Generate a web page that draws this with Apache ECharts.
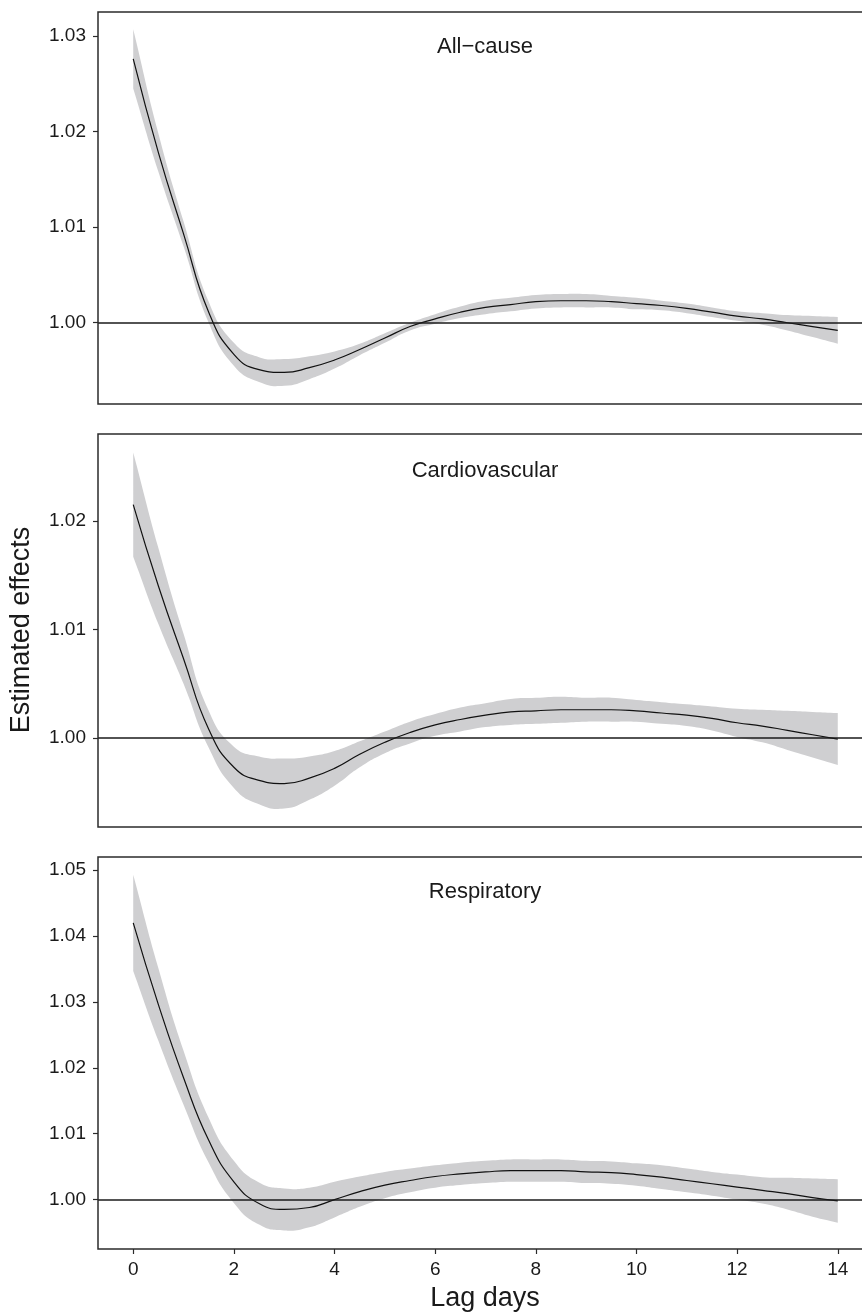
<!DOCTYPE html>
<html>
<head>
<meta charset="utf-8">
<script src="https://cdn.jsdelivr.net/npm/echarts@6/dist/echarts.min.js"></script>
<style>
  html, body { margin: 0; padding: 0; background: #fff; }
  #main { width: 862px; height: 1313px; }
</style>
</head>
<body>
<div id="main"></div>
<script>
// lag days (x values)
var lags = [0, 0.5, 1, 1.5, 2, 2.5, 3, 3.5, 4, 4.5, 5, 5.5, 6, 6.5, 7,
            7.5, 8, 8.5, 9, 9.5, 10, 10.5, 11, 11.5, 12, 12.5, 13, 13.5, 14];
var xTicks = [0, 2, 4, 6, 8, 10, 12, 14];

// All-cause
var allLine = [1.0276, 1.0178, 1.0093, 1.0011, 0.9967, 0.9951, 0.9948, 0.9953, 0.9961, 0.9972,
               0.9984, 0.9996, 1.0004, 1.0011, 1.0016, 1.0019, 1.0022, 1.0023, 1.0023, 1.0022,
               1.0020, 1.0018, 1.0015, 1.0011, 1.0007, 1.0004, 1.0000, 0.9996, 0.9992];
var allLo   = [1.0245, 1.0158, 1.0080, 1.0000, 0.9955, 0.9938, 0.9934, 0.9941, 0.9952, 0.9966,
               0.9979, 0.9992, 0.9999, 1.0005, 1.0009, 1.0012, 1.0015, 1.0016, 1.0016, 1.0016,
               1.0014, 1.0013, 1.0010, 1.0006, 1.0002, 0.9998, 0.9992, 0.9985, 0.9978];
var allHi   = [1.0307, 1.0198, 1.0106, 1.0022, 0.9979, 0.9964, 0.9962, 0.9965, 0.9970, 0.9978,
               0.9989, 1.0000, 1.0009, 1.0017, 1.0023, 1.0026, 1.0029, 1.0030, 1.0030, 1.0028,
               1.0026, 1.0023, 1.0020, 1.0016, 1.0012, 1.0010, 1.0008, 1.0007, 1.0006];
var allTicks = [1.00, 1.01, 1.02, 1.03];

// Cardiovascular
var cvdLine = [1.0215, 1.0140, 1.0073, 1.0008, 0.9973, 0.9961, 0.9958, 0.9963, 0.9972, 0.9985,
               0.9996, 1.0005, 1.0012, 1.0017, 1.0021, 1.0024, 1.0025, 1.0026, 1.0026, 1.0026,
               1.0025, 1.0023, 1.0021, 1.0018, 1.0014, 1.0011, 1.0007, 1.0003, 0.9999];
var cvdLo   = [1.0167, 1.0105, 1.0050, 0.9991, 0.9954, 0.9939, 0.9935, 0.9943, 0.9956, 0.9973,
               0.9986, 0.9995, 1.0002, 1.0006, 1.0010, 1.0012, 1.0013, 1.0014, 1.0015, 1.0015,
               1.0015, 1.0013, 1.0011, 1.0007, 1.0001, 0.9996, 0.9989, 0.9982, 0.9975];
var cvdHi   = [1.0263, 1.0175, 1.0096, 1.0025, 0.9992, 0.9983, 0.9981, 0.9983, 0.9988, 0.9997,
               1.0006, 1.0015, 1.0022, 1.0028, 1.0032, 1.0036, 1.0037, 1.0038, 1.0037, 1.0037,
               1.0035, 1.0033, 1.0031, 1.0029, 1.0027, 1.0026, 1.0025, 1.0024, 1.0023];
var cvdTicks = [1.00, 1.01, 1.02];

// Respiratory
var resLine = [1.0420, 1.0296, 1.0185, 1.0090, 1.0027, 0.9994, 0.9985, 0.9988, 1.0000, 1.0012,
               1.0022, 1.0029, 1.0035, 1.0039, 1.0042, 1.0044, 1.0044, 1.0044, 1.0042, 1.0041,
               1.0038, 1.0034, 1.0029, 1.0024, 1.0019, 1.0014, 1.0009, 1.0003, 0.9998];
var resLo   = [1.0347, 1.0241, 1.0144, 1.0056, 0.9995, 0.9962, 0.9953, 0.9958, 0.9973, 0.9989,
               1.0002, 1.0011, 1.0018, 1.0022, 1.0025, 1.0027, 1.0027, 1.0027, 1.0025, 1.0024,
               1.0021, 1.0016, 1.0011, 1.0006, 1.0000, 0.9994, 0.9985, 0.9974, 0.9965];
var resHi   = [1.0493, 1.0351, 1.0226, 1.0124, 1.0059, 1.0026, 1.0017, 1.0018, 1.0027, 1.0035,
               1.0042, 1.0047, 1.0052, 1.0056, 1.0059, 1.0061, 1.0061, 1.0061, 1.0059, 1.0058,
               1.0055, 1.0052, 1.0047, 1.0042, 1.0038, 1.0034, 1.0033, 1.0032, 1.0031];
var resTicks = [1.00, 1.01, 1.02, 1.03, 1.04, 1.05];

var panels = [
  { title: 'All\u2212cause', line: allLine, lo: allLo, hi: allHi, ticks: allTicks, min: 0.9915, max: 1.0325, top: 12,  height: 392, titleY: 47 },
  { title: 'Cardiovascular', line: cvdLine, lo: cvdLo, hi: cvdHi, ticks: cvdTicks, min: 0.9918, max: 1.0280, top: 434, height: 393, titleY: 471 },
  { title: 'Respiratory',    line: resLine, lo: resLo, hi: resHi, ticks: resTicks, min: 0.9925, max: 1.0520, top: 857, height: 392, titleY: 892 }
];

var FONT = '"Liberation Sans", Arial, Helvetica, sans-serif';
var DARK = '#1a1a1a';
var BORDER = '#2b2b2b';
var RIBBON = '#cfcfd1';
var GRID_LEFT = 98, GRID_WIDTH = 775;
var SMOOTH = 0.5;

function pts(arr) {
  return lags.map(function (t, i) { return [t, arr[i]]; });
}

// cubic segments through pixel points, same control-point rule as echarts' smooth line
function curveTo(P) {
  var n = P.length, outCp = [], inCp = [], d = '';
  for (var i = 0; i < n; i++) {
    var prev = P[i - 1] || P[i], next = P[i + 1] || P[i], cur = P[i];
    var vx = next[0] - prev[0], vy = next[1] - prev[1];
    var d0 = Math.hypot(cur[0] - prev[0], cur[1] - prev[1]);
    var d1 = Math.hypot(next[0] - cur[0], next[1] - cur[1]);
    var r = (d0 + d1) ? d1 / (d0 + d1) : 0.5;
    outCp[i] = [cur[0] + vx * SMOOTH * r, cur[1] + vy * SMOOTH * r];
    inCp[i] = [cur[0] - vx * SMOOTH * (1 - r), cur[1] - vy * SMOOTH * (1 - r)];
  }
  for (var j = 0; j < n - 1; j++) {
    d += ' C' + outCp[j][0] + ',' + outCp[j][1] + ' ' + inCp[j + 1][0] + ',' + inCp[j + 1][1] +
         ' ' + P[j + 1][0] + ',' + P[j + 1][1];
  }
  return d;
}

function ribbonRenderer(p) {
  return function (params, api) {
    var up = lags.map(function (t, i) { return api.coord([t, p.hi[i]]); });
    var dn = lags.map(function (t, i) { return api.coord([t, p.lo[i]]); }).reverse();
    var d = 'M' + up[0][0] + ',' + up[0][1] + curveTo(up) +
            ' L' + dn[0][0] + ',' + dn[0][1] + curveTo(dn) + ' Z';
    return { type: 'path', shape: { pathData: d }, style: { fill: RIBBON, stroke: null } };
  };
}

var grids = [], xAxes = [], yAxes = [], series = [], shapes = [];

panels.forEach(function (p, k) {
  var last = k === panels.length - 1;
  grids.push({
    left: GRID_LEFT, top: p.top, width: GRID_WIDTH, height: p.height,
    show: false, outerBoundsMode: 'none', containLabel: false
  });
  xAxes.push({
    type: 'value', gridIndex: k, min: -0.7, max: 14.7,
    axisLine: { show: false, onZero: false },
    splitLine: { show: false },
    axisTick: { show: last, length: 5, customValues: xTicks, lineStyle: { color: BORDER, width: 1.2 } },
    axisLabel: { show: last, customValues: xTicks, margin: 11, fontSize: 19, fontFamily: FONT, color: DARK }
  });
  yAxes.push({
    type: 'value', gridIndex: k, min: p.min, max: p.max,
    axisLine: { show: false, onZero: false },
    splitLine: { show: false },
    axisTick: { show: true, length: 5, customValues: p.ticks, lineStyle: { color: BORDER, width: 1.2 } },
    axisLabel: {
      customValues: p.ticks, margin: 12, fontSize: 19, fontFamily: FONT, color: DARK,
      formatter: function (v) { return v.toFixed(2); }
    }
  });
  // confidence ribbon
  series.push({
    type: 'custom', xAxisIndex: k, yAxisIndex: k, silent: true, z: 1,
    data: [[lags[0], p.line[0]]],
    renderItem: ribbonRenderer(p)
  });
  // estimate + reference line at 1
  series.push({
    type: 'line', xAxisIndex: k, yAxisIndex: k, z: 3,
    data: pts(p.line), smooth: SMOOTH, symbol: 'none', silent: true,
    lineStyle: { color: '#111', width: 1.2 },
    markLine: {
      silent: true, symbol: 'none', label: { show: false },
      lineStyle: { color: DARK, width: 1.6, type: 'solid' },
      data: [{ yAxis: 1 }]
    }
  });
  shapes.push({
    type: 'rect', z: 100, silent: true,
    shape: { x: GRID_LEFT, y: p.top, width: GRID_WIDTH, height: p.height },
    style: { fill: 'none', stroke: BORDER, lineWidth: 1.5 }
  });
  shapes.push({
    type: 'text', x: 485, y: p.titleY, z: 100,
    style: { text: p.title, textAlign: 'center', textVerticalAlign: 'middle',
             fontSize: 22, fontFamily: FONT, fill: DARK }
  });
});

shapes.push({
  type: 'text', x: 485, y: 1299,
  style: { text: 'Lag days', textAlign: 'center', textVerticalAlign: 'middle',
           fontSize: 27, fontFamily: FONT, fill: DARK }
});
shapes.push({
  type: 'text', x: 22, y: 630, rotation: Math.PI / 2,
  style: { text: 'Estimated effects', textAlign: 'center', textVerticalAlign: 'middle',
           fontSize: 27, fontFamily: FONT, fill: DARK }
});

var myChart = echarts.init(document.getElementById('main'));
myChart.setOption({
  animation: false,
  backgroundColor: '#fff',
  grid: grids,
  xAxis: xAxes,
  yAxis: yAxes,
  series: series,
  graphic: shapes
});
</script>
</body>
</html>
